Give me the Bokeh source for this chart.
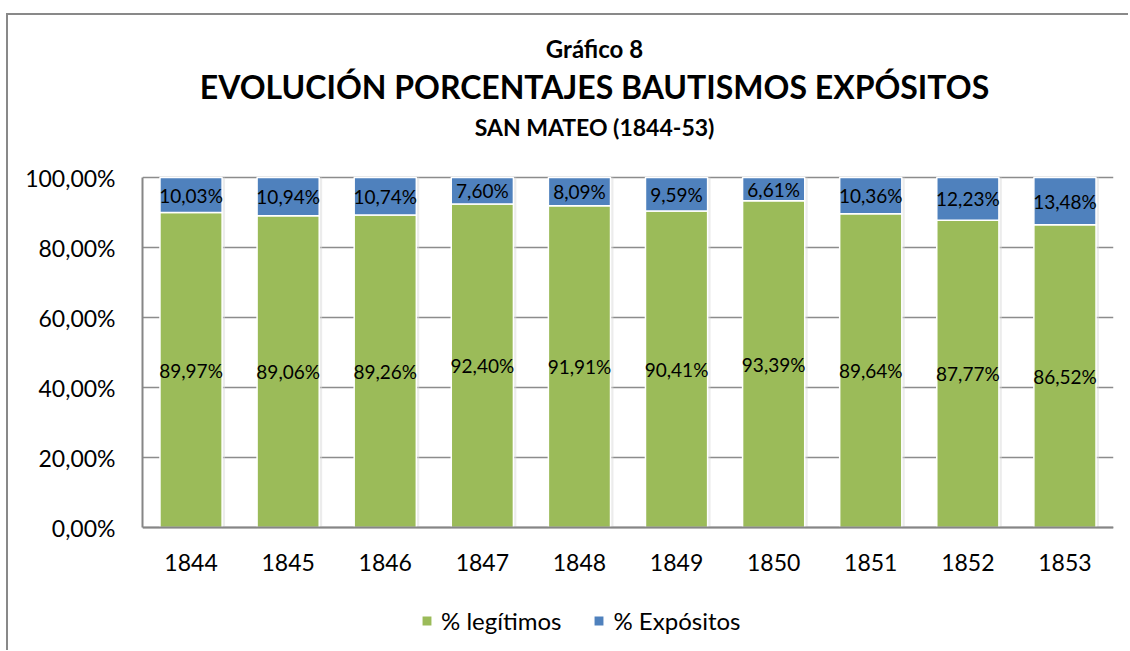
from bokeh.plotting import figure
from bokeh.models import Legend, LegendItem, FixedTicker, Range1d, Span
from bokeh.core.properties import value
from bokeh.transform import dodge
from bokeh.embed import file_html
from bokeh.resources import INLINE

years = ["1844", "1845", "1846", "1847", "1848", "1849", "1850", "1851", "1852", "1853"]
legitimos = [89.97, 89.06, 89.26, 92.40, 91.91, 90.41, 93.39, 89.64, 87.77, 86.52]
expositos = [10.03, 10.94, 10.74, 7.60, 8.09, 9.59, 6.61, 10.36, 12.23, 13.48]
y_ticks = [0, 20, 40, 60, 80, 100]
y_tick_labels = ["0,00%", "20,00%", "40,00%", "60,00%", "80,00%", "100,00%"]
series_names = ["% legítimos", "% Expósitos"]
title_1 = "Gráfico 8"
title_2 = "EVOLUCIÓN PORCENTAJES BAUTISMOS EXPÓSITOS"
title_3 = "SAN MATEO (1844-53)"

GREEN = "#9BBB59"
BLUE = "#4F81BD"
AXIS = "#868686"
FONT = "Lato"

def fmt(v):
    return f"{v:.2f}".replace(".", ",") + "%"

# ---- layout geometry (page pixels; canvas starts at the page corner) ----
ORG = 0
W, H = 1128, 650
PLOT_L, PLOT_R = 142, 1113          # frame left/right on the page
Y100, Y0 = 177, 527                 # page rows of 100 % and 0 %
PX = (Y0 - Y100) / 100.0            # pixels per percent
y_top = 100 + (Y100 - ORG) / PX
y_bot = -(ORG + H - Y0) / PX

def page_y(py):                      # page row -> data y
    return (Y0 - py) / PX

def page_x(px):                      # page column -> synthetic categorical x
    return (px - PLOT_L) / ((PLOT_R - PLOT_L) / len(years))

p = figure(x_range=years, y_range=Range1d(y_bot, y_top), width=W, height=H,
           output_backend="svg", toolbar_location=None, title=None,
           x_axis_location=None,
           min_border_left=PLOT_L - ORG, min_border_right=ORG + W - PLOT_R,
           min_border_top=0, min_border_bottom=0)
p.styles = {
    "background": ("linear-gradient(#898989, #898989) 6px 13px / 100% 2px no-repeat, "
                   "linear-gradient(#898989, #898989) 6px 13px / 2px 100% no-repeat, white"),
}
p.x_range.range_padding = 0
p.outline_line_color = None
p.background_fill_alpha = 0
p.border_fill_alpha = 0

# y axis and grid
p.xgrid.grid_line_color = None
p.ygrid.grid_line_color = "#8c8c8c"
p.ygrid.grid_line_width = 1.5
p.yaxis.ticker = FixedTicker(ticks=y_ticks)
p.yaxis.bounds = (0, 100)
p.yaxis.major_label_overrides = {tk: lb for tk, lb in zip(y_ticks, y_tick_labels)}
p.yaxis.axis_line_color = AXIS
p.yaxis.axis_line_width = 2
p.yaxis.major_tick_line_color = None
p.yaxis.minor_tick_line_color = None
p.yaxis.major_label_text_font = FONT
p.yaxis.major_label_text_font_size = "23px"
p.yaxis.major_label_text_color = "black"
p.yaxis.major_label_standoff = 21

# bar shadow
shadow_top = [100.0] * len(years)
p.vbar(x=dodge("x", 0.03, range=p.x_range), top="t", bottom=0, width=0.64,
       source=dict(x=years, t=shadow_top), fill_color="#d9d9d9", fill_alpha=0.5,
       line_color=None)

src = dict(year=years, leg=legitimos, exp=expositos,
           leg_lab=[fmt(v) for v in legitimos], exp_lab=[fmt(v) for v in expositos],
           leg_mid=[v / 2 for v in legitimos],
           exp_mid=[l + e / 2 for l, e in zip(legitimos, expositos)])
rs = p.vbar_stack(["leg", "exp"], x="year", width=0.64, source=src,
                  color=[GREEN, BLUE], line_color="white", line_width=1.5)

# x axis line at 0 %
p.add_layout(Span(location=0, dimension="width", line_color=AXIS, line_width=2))

# category labels
p.text(x=years, y=[page_y(562)] * len(years), text=years, text_align="center",
       text_baseline="middle", text_font=value(FONT), text_font_size="23px",
       text_color="black")

# value labels
p.text(x="year", y="leg_mid", text="leg_lab", source=src, text_align="center",
       text_baseline="middle", text_font=value(FONT),
       text_font_size="19px", text_color="black")
p.text(x="year", y="exp_mid", text="exp_lab", source=src, text_align="center",
       text_baseline="middle", text_font=value(FONT),
       text_font_size="19px", text_color="black")

# titles
cx = page_x(594)
for txt, mid, size in ((title_1, 48, "24px"), (title_2, 86, "32px"), (title_3, 126, "23px")):
    p.text(x=[cx], y=[page_y(mid)], text=[txt], text_align="center",
           text_baseline="middle", text_font=value(FONT), text_font_style="bold",
           text_font_size=size, text_color="black")

legend = Legend(items=[LegendItem(label=series_names[0], renderers=[rs[0]]),
                       LegendItem(label=series_names[1], renderers=[rs[1]])],
                orientation="horizontal", location=(420 - PLOT_L, ORG + H - 635),
                padding=0, margin=0, spacing=31, label_standoff=8,
                glyph_width=13, glyph_height=13,
                label_text_font=FONT, label_text_font_size="24px",
                label_text_color="black", border_line_color=None,
                background_fill_alpha=0)
p.add_layout(legend, "center")

open("out.html", "w").write(file_html(p, INLINE))
